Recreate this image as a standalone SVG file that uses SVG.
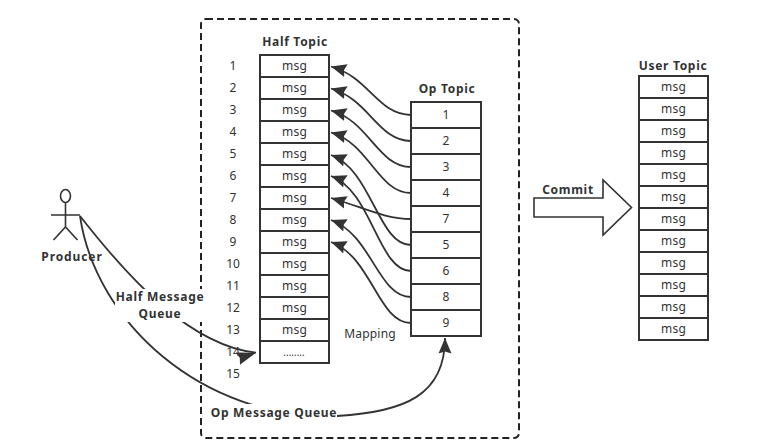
<svg xmlns="http://www.w3.org/2000/svg" width="781" height="446" viewBox="0 0 781 446">
  <style>
    text { font-family: "Noto Sans", "Open Sans", sans-serif; font-size: 12px; fill: #333; text-anchor: middle; }
    .b { font-weight: 700; letter-spacing: 0.7px; }
    .m { letter-spacing: 0.2px; }
    .cell { fill: #fff; stroke: #333; stroke-width: 2; }
    .link { fill: none; stroke: #333; stroke-width: 1.8; }
    .frame { fill: none; stroke: #222; stroke-width: 2; stroke-dasharray: 7 4; }
    .blank { fill: #fff; stroke: none; }
  </style>
  <defs>
    <marker id="head" markerUnits="userSpaceOnUse" markerWidth="18" markerHeight="14" refX="15.500" refY="7" orient="auto">
      <path d="M0 0.500 L15.500 7 L0 13.500 L2 7 Z" fill="#333"/>
    </marker>
    <marker id="head-tilted" markerUnits="userSpaceOnUse" markerWidth="22" markerHeight="16" refX="19" refY="8" orient="-18">
      <path d="M0 1.500 L19 8 L0 14.500 L2 8 Z" fill="#333"/>
    </marker>
    <g id="row"><rect class="cell" width="69" height="22"/><text x="34.500" y="14.500" class="m">msg</text></g>
    <g id="opcell"><rect class="cell" width="70" height="26"/></g>
  </defs>

  <rect class="frame" x="201" y="19" width="318" height="419" rx="5"/>

  <g id="half-topic">
    <text class="b" x="295" y="46">Half Topic</text>
    <use href="#row" x="260" y="55"/><use href="#row" x="260" y="77"/><use href="#row" x="260" y="99"/>
    <use href="#row" x="260" y="121"/><use href="#row" x="260" y="143"/><use href="#row" x="260" y="165"/>
    <use href="#row" x="260" y="187"/><use href="#row" x="260" y="209"/><use href="#row" x="260" y="231"/>
    <use href="#row" x="260" y="253"/><use href="#row" x="260" y="275"/><use href="#row" x="260" y="297"/>
    <use href="#row" x="260" y="319"/>
    <rect class="cell" x="260" y="341" width="69" height="22"/>
    <text x="294" y="356" style="font-size:10px">........</text>
  </g>

  <g id="offsets">
    <text x="233" y="70">1</text><text x="233" y="92">2</text><text x="233" y="114">3</text>
    <text x="233" y="136">4</text><text x="233" y="158">5</text><text x="233" y="180">6</text>
    <text x="233" y="202">7</text><text x="233" y="224">8</text><text x="233" y="246">9</text>
    <text x="233" y="268">10</text><text x="233" y="290">11</text><text x="233" y="312">12</text>
    <text x="233" y="334">13</text><text x="233" y="356">14</text><text x="233" y="378">15</text>
  </g>

  <g id="op-topic">
    <text class="b" x="447" y="93">Op Topic</text>
    <use href="#opcell" x="411" y="102"/><use href="#opcell" x="411" y="128"/><use href="#opcell" x="411" y="154"/>
    <use href="#opcell" x="411" y="180"/><use href="#opcell" x="411" y="206"/><use href="#opcell" x="411" y="232"/>
    <use href="#opcell" x="411" y="258"/><use href="#opcell" x="411" y="284"/><use href="#opcell" x="411" y="310"/>
    <text x="446" y="119">1</text><text x="446" y="145">2</text><text x="446" y="171">3</text>
    <text x="446" y="197">4</text><text x="446" y="223">7</text><text x="446" y="249">5</text>
    <text x="446" y="275">6</text><text x="446" y="301">8</text><text x="446" y="327">9</text>
  </g>

  <g id="user-topic">
    <text class="b" x="673" y="70">User Topic</text>
    <use href="#row" x="639" y="76"/><use href="#row" x="639" y="98"/><use href="#row" x="639" y="120"/>
    <use href="#row" x="639" y="142"/><use href="#row" x="639" y="164"/><use href="#row" x="639" y="186"/>
    <use href="#row" x="639" y="208"/><use href="#row" x="639" y="230"/><use href="#row" x="639" y="252"/>
    <use href="#row" x="639" y="274"/><use href="#row" x="639" y="296"/><use href="#row" x="639" y="318"/>
  </g>

  <g id="connectors">
    <path class="link" marker-end="url(#head)" d="M411 115 C378 115 369 77 331 66.500"/>
    <path class="link" marker-end="url(#head)" d="M411 141 C378 141 369 99 331 88.500"/>
    <path class="link" marker-end="url(#head)" d="M411 167 C378 167 369 121 331 110.500"/>
    <path class="link" marker-end="url(#head)" d="M411 193 C378 193 369 143 331 132.500"/>
    <path class="link" marker-end="url(#head)" d="M411 245 C378 245 372 170 331 155"/>
    <path class="link" marker-end="url(#head)" d="M411 271 C378 271 372 191 331 176"/>
    <path class="link" marker-end="url(#head)" d="M411 219 C385 219 365 208 331 198"/>
    <path class="link" marker-end="url(#head)" d="M411 297 C378 297 372 235 331 220"/>
    <path class="link" marker-end="url(#head)" d="M411 323 C378 323 372 257 331 242"/>
    <path class="link" marker-end="url(#head-tilted)" d="M80 216 C130 280 190 345 256 352.700"/>
    <path class="link" d="M80 216 C95 320 200 420 337 416"/>
    <path class="link" marker-end="url(#head)" d="M337 416 C405 412 445 395 445 338"/>
  </g>

  <g id="producer">
    <ellipse cx="65.500" cy="196" rx="5" ry="6.500" fill="#fff" stroke="#333" stroke-width="1.600"/>
    <path d="M65.500 202.500 V227 M51 215 H80 M53.500 240 L65.500 227 L77.500 240" fill="none" stroke="#333" stroke-width="1.600"/>
    <text class="b" x="72" y="261" style="letter-spacing:0.9px">Producer</text>
  </g>

  <g id="edge-labels">
    <rect class="blank" x="115" y="289" width="90" height="33"/>
    <text class="b" x="160" y="301">Half Message</text>
    <text class="b" x="160" y="317.500">Queue</text>
    <rect class="blank" x="211" y="404" width="126" height="17"/>
    <text class="b" x="274" y="417">Op Message Queue</text>
    <text class="m" x="370" y="338">Mapping</text>
  </g>

  <g id="commit">
    <path d="M534 198 H603 V180 L631.500 207.500 L603 235 V217 H534 Z" fill="#fff" stroke="#333" stroke-width="1.600"/>
    <text class="b" x="568" y="194">Commit</text>
  </g>
</svg>
